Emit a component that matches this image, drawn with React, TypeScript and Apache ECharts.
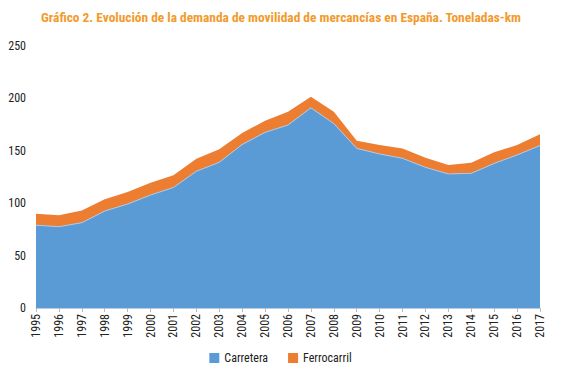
import React, { useEffect, useRef } from "react";
import * as echarts from "echarts";

const years = ["1995","1996","1997","1998","1999","2000","2001","2002","2003","2004","2005","2006","2007","2008","2009","2010","2011","2012","2013","2014","2015","2016","2017"];
const carretera = [79, 77.6, 81.4, 92.5, 99.2, 107.8, 115, 130.5, 139, 156, 167.6, 174.6, 191, 176, 152.3, 147, 142.8, 134.2, 127.9, 128.5, 138, 146, 155];
const ferrocarril = [11, 10.8, 11.6, 11.2, 11.5, 11.8, 11.6, 12, 12.4, 11, 11.1, 12.7, 10.6, 11.3, 7.4, 8.5, 9.5, 9.2, 8.6, 10.2, 10.6, 9.5, 10.7];
const title = "Gráfico 2. Evolución de la demanda de movilidad de mercancías en España. Toneladas-km";

const FONT = "'Liberation Sans Narrow', 'Roboto Condensed', 'DejaVu Sans Condensed', sans-serif";

export default function App() {
  const ref = useRef<HTMLDivElement>(null);
  useEffect(() => {
    const chart = echarts.init(ref.current!, null, { renderer: "svg" });
    chart.setOption({
      animation: false,
      title: {
        text: title,
        left: 36,
        top: 6,
        textStyle: { color: "#F39A2C", fontSize: 13.4, fontWeight: "bold", fontFamily: FONT },
      },
      legend: {
        bottom: 3,
        left: "center",
        itemWidth: 10,
        itemHeight: 10,
        itemGap: 20,
        icon: "rect",
        textStyle: { color: "#222", fontSize: 12, fontFamily: FONT },
        data: ["Carretera", "Ferrocarril"],
      },
      grid: { left: 36, right: 21, top: 46, bottom: 64 },
      xAxis: {
        type: "category",
        data: years,
        boundaryGap: false,
        axisLine: { lineStyle: { color: "#b8cce4", width: 1 } },
        axisTick: { show: true, alignWithLabel: true, length: 4, lineStyle: { color: "#bbbbbb" } },
        axisLabel: { rotate: 90, color: "#222", fontSize: 12, fontFamily: FONT, margin: 6, interval: 0 },
      },
      yAxis: {
        type: "value",
        min: 0,
        max: 250,
        interval: 50,
        splitLine: { show: false },
        axisLine: { show: false },
        axisTick: { show: false },
        axisLabel: { color: "#222", fontSize: 12, fontFamily: FONT, margin: 10 },
      },
      series: [
        {
          name: "Carretera",
          type: "line",
          stack: "total",
          data: carretera,
          symbol: "none",
          lineStyle: { width: 1, color: "#a9c9ec" },
          itemStyle: { color: "#5B9BD5" },
          areaStyle: { color: "#5B9BD5", opacity: 1 },
        },
        {
          name: "Ferrocarril",
          type: "line",
          stack: "total",
          data: ferrocarril,
          symbol: "none",
          lineStyle: { width: 0 },
          itemStyle: { color: "#ED7D31" },
          areaStyle: { color: "#ED7D31", opacity: 1 },
        },
      ],
    });
    return () => chart.dispose();
  }, []);
  return <div ref={ref} style={{ width: 561, height: 372, position: "absolute", left: 0, top: 0 }} />;
}
